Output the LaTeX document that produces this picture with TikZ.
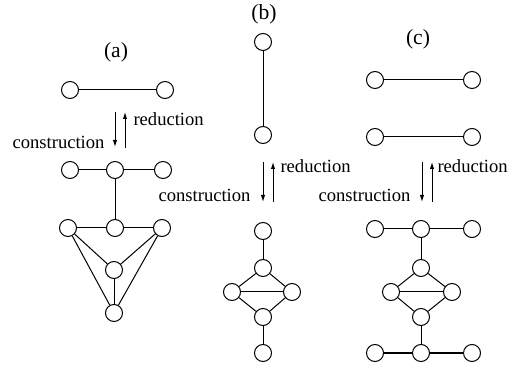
\documentclass[tikz,border=0pt]{standalone}
\usepackage{fontspec}
\setmainfont{Liberation Serif}
\usetikzlibrary{arrows.meta}

\begin{document}
\begin{tikzpicture}[x=0.5pt,y=-0.5pt,line width=0.5pt,
  vertex/.style={shape=circle,draw=black,fill=white,minimum size=8.5pt,inner sep=0pt},
  steplabel/.style={font=\fontsize{9.3pt}{11pt}\selectfont,inner sep=0pt},
  caption/.style={font=\fontsize{10.8pt}{13pt}\selectfont,inner sep=0pt},
  move/.style={-{Latex[length=3.5pt,width=2.2pt]}}]
\useasboundingbox (0,0) rectangle (508,368);
% (a)
\node[caption] (capA) at (116,52) {(a)};
\node[vertex] (A1) at (70,90) {};
\node[vertex] (A2) at (165,90) {};
\node[vertex] (A3) at (70,170) {};
\node[vertex] (A4) at (115,170) {};
\node[vertex] (A5) at (163,170) {};
\node[vertex] (A6) at (68,228) {};
\node[vertex] (A7) at (115,228) {};
\node[vertex] (A8) at (162,228) {};
\node[vertex] (A9) at (114,270) {};
\node[vertex] (A10) at (114,313) {};
\coordinate (aup) at (115,112);
\coordinate (adown) at (115,147);
\coordinate (bup) at (125,112);
\coordinate (bdown) at (125,148);
\draw[move] (aup) -- (adown);
\draw[move] (bdown) -- (bup);
\node[steplabel,anchor=west] (redA) at (133,119) {reduction};
\node[steplabel,anchor=east] (conA) at (105,142) {construction};
\path (A1) edge (A2);
\path (A3) edge (A4) (A4) edge (A5) (A4) edge (A7);
\path (A6) edge (A7) (A7) edge (A8);
\path (A6) edge (A9) (A8) edge (A9) (A9) edge (A10);
\path (A6) edge (A10) (A8) edge (A10);
% (b)
\node[caption] (capB) at (264,14) {(b)};
\node[vertex] (B1) at (263,42) {};
\node[vertex] (B2) at (263,135) {};
\node[vertex] (B3) at (263,231) {};
\node[vertex] (B4) at (263,268) {};
\node[vertex] (B5) at (232,292) {};
\node[vertex] (B6) at (292,292) {};
\node[vertex] (B7) at (263,317) {};
\node[vertex] (B8) at (263,353) {};
\coordinate (cup) at (263,162);
\coordinate (cdown) at (263,202);
\coordinate (dup) at (273,162);
\coordinate (ddown) at (273,202);
\draw[move] (cup) -- (cdown);
\draw[move] (ddown) -- (dup);
\node[steplabel,anchor=west] (redB) at (280,166) {reduction};
\node[steplabel,anchor=east] (conB) at (251,195) {construction};
\path (B1) edge (B2);
\path (B3) edge (B4) (B4) edge (B5) (B4) edge (B6);
\path (B5) edge (B6) (B5) edge (B7) (B6) edge (B7) (B7) edge (B8);
% (c)
\node[caption] (capC) at (418,39) {(c)};
\node[vertex] (C1) at (375,80) {};
\node[vertex] (C2) at (472,80) {};
\node[vertex] (C3) at (375,137) {};
\node[vertex] (C4) at (472,137) {};
\node[vertex] (C5) at (375,229) {};
\node[vertex] (C6) at (421,229) {};
\node[vertex] (C7) at (472,229) {};
\node[vertex] (C8) at (421,268) {};
\node[vertex] (C9) at (391,292) {};
\node[vertex] (C10) at (452,292) {};
\node[vertex] (C11) at (421,317) {};
\node[vertex] (C12) at (375,353) {};
\node[vertex] (C13) at (421,353) {};
\node[vertex] (C14) at (472,353) {};
\coordinate (eup) at (422,162);
\coordinate (edown) at (422,202);
\coordinate (fup) at (432,162);
\coordinate (fdown) at (432,202);
\draw[move] (eup) -- (edown);
\draw[move] (fdown) -- (fup);
\node[steplabel,anchor=west] (redC) at (437,166) {reduction};
\node[steplabel,anchor=east] (conC) at (411,195) {construction};
\path (C1) edge (C2) (C3) edge (C4);
\path (C5) edge (C6) (C6) edge (C7) (C6) edge (C8);
\path (C8) edge (C9) (C8) edge (C10) (C9) edge (C10);
\path (C9) edge (C11) (C10) edge (C11) (C11) edge (C13);
\path (C12) edge (C13) (C13) edge (C14);
\end{tikzpicture}
\end{document}
